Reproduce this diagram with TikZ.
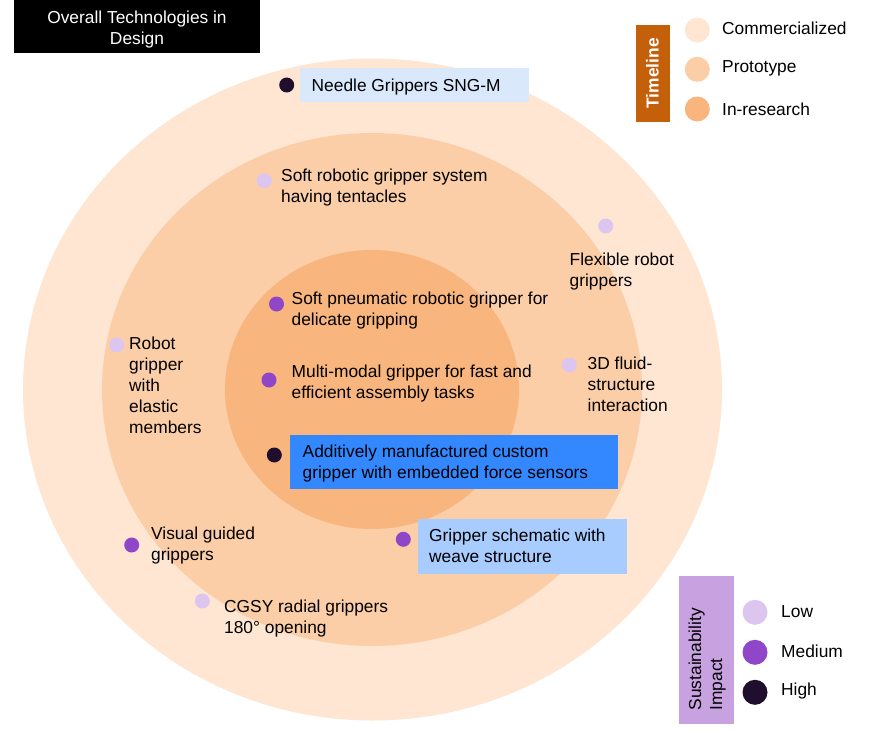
\documentclass[tikz,border=0pt]{standalone}
\usepackage{fontspec}
\setmainfont{Liberation Sans}
\definecolor{commc}{HTML}{FEE6D2}
\definecolor{protoc}{HTML}{FBCEA8}
\definecolor{resc}{HTML}{F8B57D}
\definecolor{timec}{HTML}{C5600A}
\definecolor{sustc}{HTML}{C8A2E0}
\definecolor{lowc}{HTML}{DCC6F0}
\definecolor{medc}{HTML}{9046C9}
\definecolor{highc}{HTML}{1F0E2C}
\definecolor{needlec}{HTML}{DAE8FC}
\definecolor{addc}{HTML}{3388FF}
\definecolor{schemc}{HTML}{A9CCFF}
\tikzset{
  lbl/.style={anchor=north west, inner sep=0pt, align=left, text=black, font=\fontsize{17.35}{21}\selectfont},
  dot/.style={circle, inner sep=0pt, minimum size=15pt},
  legdot/.style={circle, inner sep=0pt, minimum size=25pt},
  legtxt/.style={anchor=west, inner sep=0pt, text=black, font=\fontsize{17.35}{21}\selectfont},
  tagbox/.style={anchor=north west, inner sep=0pt},
}
\begin{document}
\begin{tikzpicture}[x=1pt,y=-1pt]
\useasboundingbox (0,0) rectangle (874,730);
% rings
\fill[commc] (372.5,389.5) ellipse [x radius=349.5pt, y radius=331pt];
\fill[protoc] (372,389.5) ellipse [x radius=270pt, y radius=256.5pt];
\fill[resc] (372,389.5) ellipse [x radius=147pt, y radius=139.5pt];
% title
\node[tagbox, fill=black, minimum width=246pt, minimum height=53.3pt] (titlebox) at (14,0) {};
\node[anchor=north, inner sep=0pt, align=center, text=white, font=\fontsize{17.35}{21}\selectfont] (title) at (137,9) {\strut Overall Technologies in\\Design};
% label boxes
\node[tagbox, fill=needlec, minimum width=229pt, minimum height=33.4pt] (needlebox) at (299.3,68.3) {};
\node[tagbox, fill=addc, minimum width=327.7pt, minimum height=54.7pt] (addbox) at (290,434.3) {};
\node[tagbox, fill=schemc, minimum width=209.4pt, minimum height=55pt] (schembox) at (417.3,519) {};
% dots
\node[dot, fill=highc] (dneedle) at (286.7,85) {};
\node[dot, fill=lowc] (dsoft) at (264.3,180.7) {};
\node[dot, fill=lowc] (dflex) at (605.7,226) {};
\node[dot, fill=medc] (dpneu) at (276.5,304) {};
\node[dot, fill=lowc] (drobot) at (116.7,345) {};
\node[dot, fill=medc] (dmulti) at (269,380) {};
\node[dot, fill=lowc] (dfluid) at (569.3,365) {};
\node[dot, fill=highc] (dadd) at (274.3,455) {};
\node[dot, fill=medc] (dschem) at (403.3,539.3) {};
\node[dot, fill=medc] (dvis) at (131.7,545) {};
\node[dot, fill=lowc] (dcgsy) at (202.3,601) {};
% labels
\node[lbl] (tneedle) at (311.5,76.7) {\strut Needle Grippers SNG-M};
\node[lbl] (tsoft) at (281,166.7) {\strut Soft robotic gripper system\\having tentacles};
\node[lbl] (tflex) at (569.5,250.2) {\strut Flexible robot\\grippers};
\node[lbl] (tpneu) at (291.5,289.7) {\strut Soft pneumatic robotic gripper for\\delicate gripping};
\node[lbl] (trobot) at (129,334.7) {\strut Robot\\gripper\\with\\elastic\\members};
\node[lbl] (tmulti) at (291.5,362.7) {\strut Multi-modal gripper for fast and\\efficient assembly tasks};
\node[lbl] (tfluid) at (587.5,354.2) {\strut 3D fluid-\\structure\\interaction};
\node[lbl] (tadd) at (302.5,442.7) {\strut Additively manufactured custom\\gripper with embedded force sensors};
\node[lbl] (tschem) at (429,526.7) {\strut Gripper schematic with\\weave structure};
\node[lbl] (tvis) at (151,524.2) {\strut Visual guided\\grippers};
\node[lbl] (tcgsy) at (224,597.7) {\strut CGSY radial grippers\\180° opening};
% timeline legend
\node[tagbox, fill=timec, minimum width=34pt, minimum height=96.7pt] (timebox) at (636,25) {};
\node[rotate=90, inner sep=0pt, text=white, font=\fontsize{17.35}{21}\selectfont\bfseries] (timetxt) at (652.5,73.3) {Timeline};
\node[legdot, fill=commc] (lcomm) at (697.3,30) {};
\node[legdot, fill=protoc] (lproto) at (697.3,69.3) {};
\node[legdot, fill=resc] (lres) at (697.3,109) {};
\node[legtxt] (tcomm) at (722,28) {Commercialized};
\node[legtxt] (tproto) at (722,68.8) {Prototype};
\node[legtxt] (tres) at (722,108.8) {In-research};
% sustainability legend
\node[tagbox, fill=sustc, minimum width=55pt, minimum height=148pt] (sustbox) at (679,576) {};
\node[rotate=90, anchor=north west, inner sep=0pt, align=left, text=black, font=\fontsize{17.35}{21}\selectfont] (susttxt) at (686.3,710.5) {\strut Sustainability\\Impact};
\node[legdot, fill=lowc] (llow) at (755,612.3) {};
\node[legdot, fill=medc] (lmed) at (755,652.3) {};
\node[legdot, fill=highc] (lhigh) at (755,692.3) {};
\node[legtxt] (tlow) at (781,611.5) {Low};
\node[legtxt] (tmed) at (781,651.5) {Medium};
\node[legtxt] (thigh) at (781,691.5) {High};
\end{tikzpicture}
\end{document}
